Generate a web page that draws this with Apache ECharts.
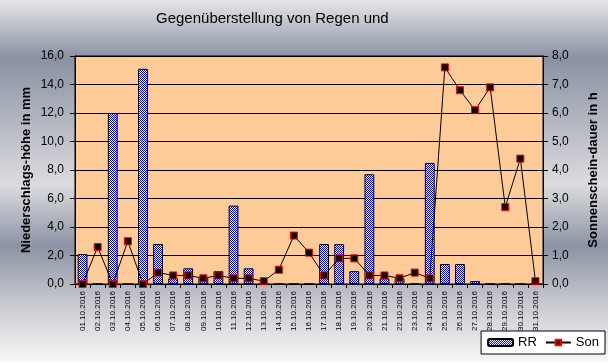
<!DOCTYPE html>
<html><head><meta charset="utf-8">
<script src="https://cdn.jsdelivr.net/npm/echarts@6/dist/echarts.min.js"></script>
<style>html,body{margin:0;padding:0;}#c{width:608px;height:362px;}</style>
</head><body><div id="c"></div>
<script>
const days = ['01.10.2016','02.10.2016','03.10.2016','04.10.2016','05.10.2016','06.10.2016','07.10.2016','08.10.2016','09.10.2016','10.10.2016','11.10.2016','12.10.2016','13.10.2016','14.10.2016','15.10.2016','16.10.2016','17.10.2016','18.10.2016','19.10.2016','20.10.2016','21.10.2016','22.10.2016','23.10.2016','24.10.2016','25.10.2016','26.10.2016','27.10.2016','28.10.2016','29.10.2016','30.10.2016','31.10.2016'];
const RR = [2.1,0,12.0,0,15.1,2.8,0.4,1.1,0.5,0.9,5.5,1.1,0,0,0,0,2.8,2.8,0.9,7.7,0.4,0.4,0,8.5,1.4,1.4,0.2,0,0,0,0];
const Son = [0.0,1.3,0.0,1.5,0.0,0.4,0.3,0.3,0.2,0.3,0.2,0.2,0.1,0.5,1.7,1.1,0.3,0.9,0.9,0.3,0.3,0.2,0.4,0.2,7.6,6.8,6.1,6.9,2.7,4.4,0.1];
const titleText = 'Gegenüberstellung von Regen und';
const leftName = 'Niederschlags-höhe in mm';
const rightName = 'Sonnenschein-dauer in h';

const pat = document.createElement('canvas');
pat.width = 2; pat.height = 2;
const pc = pat.getContext('2d');
pc.fillStyle = '#ffffff'; pc.fillRect(0,0,2,2);
pc.fillStyle = '#0000ff'; pc.fillRect(0,0,1,1); pc.fillRect(1,1,1,1);

const fmt = v => v.toFixed(1).replace('.', ',');
const FONT = '"Liberation Sans", Arial, sans-serif';
const chart = echarts.init(document.getElementById('c'), null, {renderer:'canvas'});
chart.setOption({
  animation: false,
  backgroundColor: {type:'linear', x:0, y:0, x2:0, y2:1, colorStops:[
    {offset:0, color:'#e6e6e9'},{offset:0.16, color:'#8a91a3'},{offset:0.34, color:'#b4b8c2'},
    {offset:0.51, color:'#dcdcdf'},{offset:0.68, color:'#8c93a4'},{offset:0.84, color:'#c8cad0'},{offset:1, color:'#f8f8f8'}]},
  title: {text: titleText, left: 151, top: 6, textStyle:{fontFamily: FONT, fontSize: 15, fontWeight:'normal', color:'#000'}},
  grid: {left: 75, right: 54, top: 56, bottom: 78, show: true, backgroundColor:'#ffcc99', borderColor:'#000', borderWidth:1},
  legend: {right: 3, bottom: 8, backgroundColor:'#fff', borderColor:'#000', borderWidth:1, borderRadius:0, padding:[5,6],
    itemGap: 8, itemWidth: 25, itemHeight: 7, textStyle:{fontFamily: FONT, fontSize: 13, color:'#000'},
    data:['RR','Son']},
  xAxis: {type:'category', data: days, boundaryGap: true,
    axisLine:{lineStyle:{color:'#000', width:1}},
    axisTick:{show:true, alignWithLabel:false, length:4, lineStyle:{color:'#000'}},
    axisLabel:{interval:0, rotate:90, fontFamily: FONT, fontSize:8, color:'#000', margin:7}},
  yAxis: [
    {type:'value', min:0, max:16, interval:2, position:'left',
     name: leftName, nameLocation:'middle', nameGap:42, nameRotate:90, nameMoveOverlap:false,
     nameTextStyle:{fontFamily: FONT, fontSize:13, fontWeight:'bold', color:'#000'},
     axisLine:{show:true, lineStyle:{color:'#000'}},
     axisTick:{show:true, length:5, lineStyle:{color:'#000'}},
     axisLabel:{formatter: fmt, fontFamily: FONT, fontSize:12, color:'#000', margin:11},
     splitLine:{show:true, lineStyle:{color:'#000', width:1}}},
    {type:'value', min:0, max:8, interval:1, position:'right',
     name: rightName, nameLocation:'middle', nameGap:44, nameRotate:90, nameMoveOverlap:false,
     nameTextStyle:{fontFamily: FONT, fontSize:13, fontWeight:'bold', color:'#000'},
     axisLine:{show:true, lineStyle:{color:'#000'}},
     axisTick:{show:true, length:5, lineStyle:{color:'#000'}},
     axisLabel:{formatter: fmt, fontFamily: FONT, fontSize:12, color:'#000', margin:9},
     splitLine:{show:false}}
  ],
  series: [
    {name:'RR', type:'bar', yAxisIndex:0, data: RR, barWidth:'65%',
     itemStyle:{color:{image: pat, repeat:'repeat'}, borderColor:'#000', borderWidth:1}},
    {name:'Son', type:'line', yAxisIndex:1, data: Son, symbol:'rect', symbolSize:7, showSymbol:true,
     lineStyle:{color:'#000', width:1}, itemStyle:{color:'#000', borderColor:'#ff0000', borderWidth:1}}
  ]
});
</script></body></html>
